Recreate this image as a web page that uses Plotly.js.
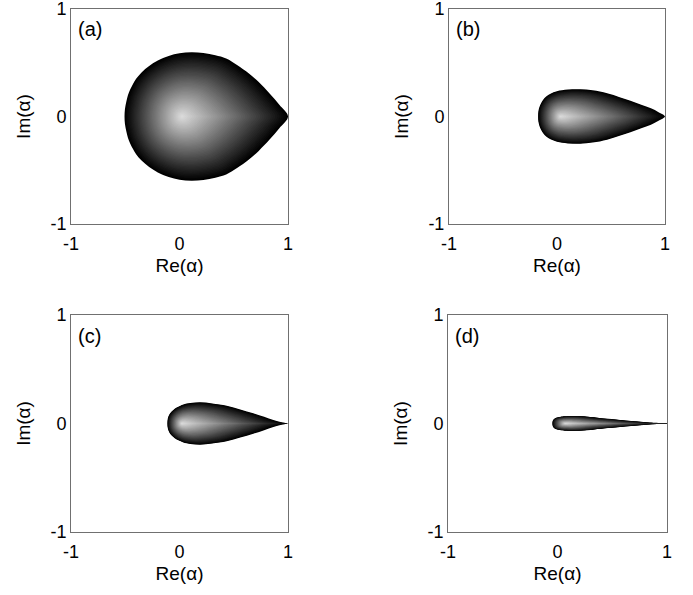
<!DOCTYPE html>
<html>
<head>
<meta charset="utf-8">
<script src="https://cdn.plot.ly/plotly-3.0.1.min.js"></script>
<style>html,body{margin:0;padding:0;background:#fff;}#chart{width:693px;height:595px;}</style>
</head>
<body>
<div id="chart"></div>
<script>
// Upper-half boundaries of each teardrop region (symmetric about Im = 0)
const panelLabels = ['(a)', '(b)', '(c)', '(d)'];
const tickVals = [-1, 0, 1];
const tickText = ['-1', '0', '1'];

const reA = [-0.507, -0.503, -0.49, -0.475, -0.455, -0.43, -0.40, -0.35, -0.28, -0.2, -0.1, 0.0, 0.11, 0.22, 0.33, 0.43, 0.53, 0.64, 0.73, 0.83, 0.92, 1.0];
const imA = [0, 0.07, 0.14, 0.2, 0.25, 0.30, 0.35, 0.41, 0.47, 0.52, 0.563, 0.588, 0.597, 0.59, 0.57, 0.54, 0.48, 0.40, 0.32, 0.215, 0.11, 0];

const reB = [-0.175, -0.172, -0.16, -0.145, -0.128, -0.1, -0.06, 0.0, 0.1, 0.215, 0.33, 0.464, 0.58, 0.68, 0.78, 0.87, 0.94, 1.0];
const imB = [0, 0.05, 0.095, 0.128, 0.155, 0.185, 0.212, 0.235, 0.25, 0.253, 0.243, 0.216, 0.18, 0.147, 0.11, 0.076, 0.04, 0];

const reC = [-0.112, -0.108, -0.095, -0.077, -0.057, -0.03, 0.0, 0.035, 0.1, 0.19, 0.3, 0.435, 0.56, 0.68, 0.78, 0.865, 0.94, 1.0];
const imC = [0, 0.045, 0.08, 0.105, 0.125, 0.145, 0.16, 0.175, 0.188, 0.195, 0.185, 0.164, 0.13, 0.094, 0.062, 0.032, 0.012, 0];

const reD = [-0.047, -0.045, -0.038, -0.023, 0.0, 0.03, 0.068, 0.19, 0.3, 0.434, 0.55, 0.647, 0.76, 0.86, 0.92, 1.0];
const imD = [0, 0.02, 0.035, 0.048, 0.056, 0.062, 0.066, 0.068, 0.06, 0.045, 0.035, 0.025, 0.016, 0.008, 0.004, 0.001];

// brightest point of the shading in each panel
const lightRe = [0.02, 0.03, 0.02, 0.07];
const lightIm = [0, 0, 0, 0];

// thin tail of panel (d)
const tailRe = [0.86, 1.0];
const tailIm = [0, 0];

const panels = [[reA, imA], [reB, imB], [reC, imC], [reD, imD]];
const axSuffix = ['', '2', '3', '4'];

const traces = [];
const N = 50;
panels.forEach((p, i) => {
  const re = p[0], im = p[1];
  const px = re.concat(re.slice(0, -1).reverse());
  const py = im.concat(im.slice(0, -1).reverse().map(v => -v));
  const cx = lightRe[i], cy = lightIm[i];
  for (let k = 0; k < N; k++) {
    const s = 1 - k / N;
    const g = Math.round(222 * Math.pow(1 - s, 1.0));
    traces.push({
      type: 'scatter', mode: 'lines', fill: 'toself',
      x: px.map(v => cx + s * (v - cx)),
      y: py.map(v => cy + s * (v - cy)),
      line: {width: 0, color: 'rgba(0,0,0,0)', shape: 'spline'},
      fillcolor: `rgb(${g},${g},${g})`,
      hoverinfo: 'skip', showlegend: false,
      xaxis: 'x' + axSuffix[i], yaxis: 'y' + axSuffix[i]
    });
  }
});
traces.push({
  type: 'scatter', mode: 'lines', x: tailRe, y: tailIm,
  line: {width: 1, color: '#222'}, hoverinfo: 'skip', showlegend: false,
  xaxis: 'x4', yaxis: 'y4'
});

const tickFont = {family: 'Liberation Sans, Arial, sans-serif', size: 18, color: '#000'};
const titleFont = {family: 'Liberation Sans, Arial, sans-serif', size: 19, color: '#000'};
const xDom = [[0.1025, 0.4156], [0.6479, 0.9596], [0.1025, 0.4156], [0.6465, 0.9625]];
const yDom = [[0.6235, 0.9849], [0.6235, 0.9849], [0.1059, 0.4706], [0.1059, 0.4706]];

const layout = {
  width: 693, height: 595,
  margin: {l: 0, r: 0, t: 0, b: 0},
  paper_bgcolor: '#fff', plot_bgcolor: '#fff',
  font: tickFont, showlegend: false, annotations: []
};
for (let i = 0; i < 4; i++) {
  const s = axSuffix[i];
  layout['xaxis' + s] = {
    domain: xDom[i], range: [-1, 1], anchor: 'y' + s,
    tickvals: tickVals, ticktext: tickText, ticks: '',
    ticklabelstandoff: 3, ticklabeloverflow: 'allow',
    showgrid: false, zeroline: false, showline: true, mirror: true,
    linecolor: '#707070', linewidth: 1, tickfont: tickFont,
    title: {text: 'Re(α)', font: titleFont, standoff: 6}
  };
  layout['yaxis' + s] = {
    domain: yDom[i], range: [-1, 1], anchor: 'x' + s,
    tickvals: tickVals, ticktext: tickText, ticks: '',
    ticklabeloverflow: 'allow',
    showgrid: false, zeroline: false, showline: true, mirror: true,
    linecolor: '#707070', linewidth: 1, tickfont: tickFont,
    title: {text: 'Im(α)', font: titleFont, standoff: 14}
  };
  layout.annotations.push({
    xref: 'x' + s + ' domain', yref: 'y' + s + ' domain',
    x: 0.025, y: 0.905, xanchor: 'left', yanchor: 'middle',
    text: panelLabels[i], showarrow: false, font: {family: titleFont.family, size: 20, color: '#000'}
  });
}

Plotly.newPlot('chart', traces, layout, {staticPlot: true});
</script>
</body>
</html>
